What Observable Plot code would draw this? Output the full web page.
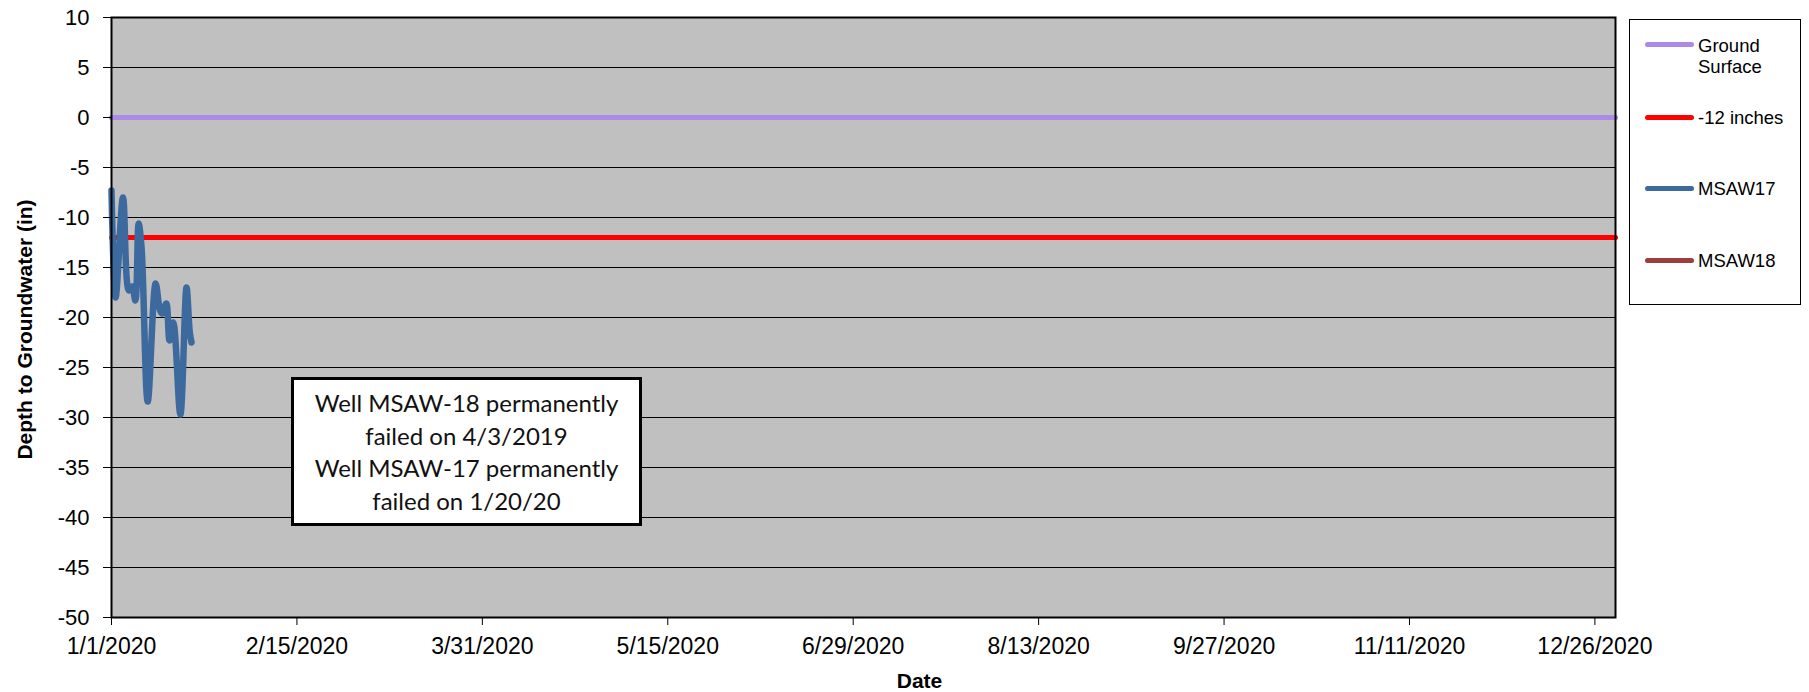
<!DOCTYPE html>
<html>
<head>
<meta charset="utf-8">
<script src="https://cdn.jsdelivr.net/npm/d3@7"></script>
<script src="https://cdn.jsdelivr.net/npm/@observablehq/plot@0.6"></script>
<style>
  body { margin: 0; background: #fff; }
  #wrap { position: relative; width: 1809px; height: 692px; overflow: hidden; }
  #legend { position: absolute; left: 1629px; top: 19px; width: 172px; height: 286px; box-sizing: border-box;
            border: 1px solid #000; background: #fff; font-family: "Liberation Sans", Arial, sans-serif; font-size: 18.5px; color: #000; }
  .swatch { position: absolute; left: 15px; width: 49px; height: 5px; border-radius: 3px; }
  .lab { position: absolute; left: 68px; width: 100px; line-height: 21px; }
  #note { position: absolute; left: 291px; top: 377px; width: 351px; height: 149px; box-sizing: border-box;
          border: 3px solid #000; background: #fff; font-family: Lato, "Open Sans", sans-serif; font-size: 24px;
          color: #111; text-align: center; padding-top: 7px; line-height: 32.5px; }
</style>
</head>
<body>
<div id="wrap"></div>
<script>
// ---- data ----
const domainDates = ["2020-01-01T00:00", "2020-12-31T00:00"];
const groundValues = [0, 0];
const thresholdValues = [-12, -12];
const msaw17Times = [
  "2020-01-01T00:00", "2020-01-02T00:00", "2020-01-03T19:00", "2020-01-05T05:00", "2020-01-06T00:00",
  "2020-01-06T19:00", "2020-01-07T14:00", "2020-01-08T07:00", "2020-01-09T19:00", "2020-01-11T17:00",
  "2020-01-12T19:00", "2020-01-13T07:00", "2020-01-14T07:00", "2020-01-15T02:00", "2020-01-16T00:00",
  "2020-01-17T17:00", "2020-01-19T05:00", "2020-01-20T00:00", "2020-01-20T10:00"
];
const msaw17Values = [
  -7.3, -18.0, -8.0, -17.3, -16.9,
  -18.3, -10.6, -13.0, -28.4, -16.6,
  -19.3, -19.6, -18.6, -22.3, -20.5,
  -29.7, -17.0, -21.5, -22.5
];
const msaw18Times = [];
const msaw18Values = [];

const xTickDates = ["2020-01-01T00:00", "2020-02-15T00:00", "2020-03-31T00:00", "2020-05-15T00:00", "2020-06-29T00:00",
                    "2020-08-13T00:00", "2020-09-27T00:00", "2020-11-11T00:00", "2020-12-26T00:00"];
const xTickLabels = ["1/1/2020", "2/15/2020", "3/31/2020", "5/15/2020", "6/29/2020", "8/13/2020", "9/27/2020", "11/11/2020", "12/26/2020"];
const yTicks = [10, 5, 0, -5, -10, -15, -20, -25, -30, -35, -40, -45, -50];
const yTickLabels = ["10", "5", "0", "-5", "-10", "-15", "-20", "-25", "-30", "-35", "-40", "-45", "-50"];
const gridValues = [5, 0, -5, -10, -15, -20, -25, -30, -35, -40, -45];

const legendNames = ["Ground Surface", "-12 inches", "MSAW17", "MSAW18"];
const seriesColors = ["#ad8ae8", "#ff0000", "#3d6a9e", "#9c3f3c"];
const xTitle = "Date";
const yTitle = "Depth to Groundwater (in)";
const noteLines = ["Well MSAW-18 permanently", "failed on 4/3/2019", "Well MSAW-17 permanently", "failed on 1/20/20"];

// ---- build ----
const parse = s => new Date(s + ":00Z");
const ground = domainDates.map((d, i) => ({date: parse(d), value: groundValues[i]}));
const threshold = domainDates.map((d, i) => ({date: parse(d), value: thresholdValues[i]}));
const msaw17 = msaw17Times.map((d, i) => ({date: parse(d), value: msaw17Values[i]}));
const msaw18 = msaw18Times.map((d, i) => ({date: parse(d), value: msaw18Values[i]}));
const xTickMap = new Map(xTickDates.map((d, i) => [+parse(d), xTickLabels[i]]));

const chart = Plot.plot({
  width: 1809, height: 692,
  marginLeft: 111, marginRight: 194, marginTop: 17, marginBottom: 75,
  style: {fontFamily: "'Liberation Sans', Arial, sans-serif", fontSize: "22px", color: "#000", background: "#fff", overflow: "visible"},
  x: {type: "utc", domain: domainDates.map(parse)},
  y: {domain: [-50, 10]},
  marks: [
    Plot.frame({fill: "#c0c0c0"}),
    Plot.ruleY(gridValues, {stroke: "#000", strokeWidth: 1}),
    Plot.line(ground, {x: "date", y: "value", stroke: seriesColors[0], strokeWidth: 5}),
    Plot.line(threshold, {x: "date", y: "value", stroke: seriesColors[1], strokeWidth: 5}),
    Plot.line(msaw18, {x: "date", y: "value", stroke: seriesColors[3], strokeWidth: 6.5, curve: "catmull-rom"}),
    Plot.line(msaw17, {x: "date", y: "value", stroke: seriesColors[2], strokeWidth: 6.5, curve: "catmull-rom",
                       strokeLinejoin: "round", strokeLinecap: "round"}),
    Plot.frame({stroke: "#000", strokeWidth: 2}),
    Plot.axisX(xTickDates.map(parse), {tickSize: 8, tickPadding: 12, fontSize: 23, tickFormat: d => xTickMap.get(+d), label: null}),
    Plot.axisY(yTicks, {tickSize: 8, tickPadding: 14, tickFormat: d => yTickLabels[yTicks.indexOf(d)], label: null}),
    Plot.text([yTitle], {frameAnchor: "left", textAnchor: "middle", lineAnchor: "middle", rotate: -90, dx: -86, dy: 12,
                         fontWeight: "bold", fontSize: 21}),
    Plot.text([xTitle], {frameAnchor: "bottom", textAnchor: "middle", lineAnchor: "middle", dx: 56, dy: 64,
                         fontWeight: "bold", fontSize: 21})
  ]
});

const wrap = document.getElementById("wrap");
wrap.appendChild(chart);

// legend
const legendRowY = [24, 97, 168, 240];
const legendTextTop = [15, 86.5, 157.5, 229.5];
const legend = document.createElement("div");
legend.id = "legend";
legendNames.forEach((name, i) => {
  const sw = document.createElement("div");
  sw.className = "swatch";
  sw.style.top = (legendRowY[i] - 2.5) + "px";
  sw.style.background = seriesColors[i];
  legend.appendChild(sw);
  const lab = document.createElement("div");
  lab.className = "lab";
  lab.style.top = legendTextTop[i] + "px";
  lab.textContent = name;
  legend.appendChild(lab);
});
wrap.appendChild(legend);

// annotation
const note = document.createElement("div");
note.id = "note";
noteLines.forEach(t => { const d = document.createElement("div"); d.textContent = t; note.appendChild(d); });
wrap.appendChild(note);
</script>
</body>
</html>
